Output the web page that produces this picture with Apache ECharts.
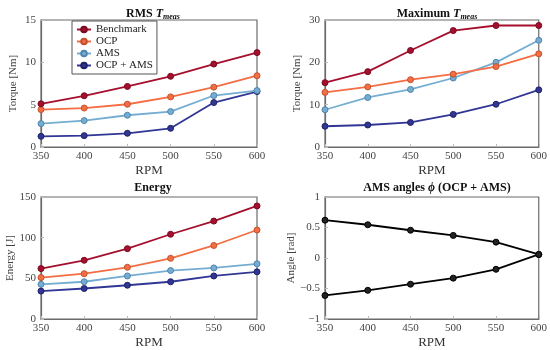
<!DOCTYPE html>
<html><head><meta charset="utf-8">
<script src="https://cdn.jsdelivr.net/npm/echarts@6/dist/echarts.min.js"></script>
<style>html,body{margin:0;padding:0;background:#fff}#c{width:550px;height:350px}</style>
</head><body><div id="c"></div>
<script>
const rpm = [350, 400, 450, 500, 550, 600];
const seriesNames = ['Benchmark', 'OCP', 'AMS', 'OCP + AMS'];
const rmsBenchmark = [5.1, 6.05, 7.15, 8.35, 9.8, 11.15];
const rmsOCP = [4.42, 4.6, 5.05, 5.92, 7.07, 8.42];
const rmsAMS = [2.76, 3.12, 3.75, 4.18, 6.08, 6.67];
const rmsOCPAMS = [1.26, 1.34, 1.62, 2.21, 5.25, 6.55];
const maxBenchmark = [15.2, 17.8, 22.8, 27.5, 28.7, 28.7];
const maxOCP = [12.9, 14.2, 15.9, 17.2, 19.0, 22.0];
const maxAMS = [8.8, 11.7, 13.6, 16.3, 20.0, 25.2];
const maxOCPAMS = [4.9, 5.2, 5.8, 7.7, 10.1, 13.5];
const enBenchmark = [62, 72.2, 86.5, 104.2, 120.4, 139];
const enOCP = [50.9, 55.7, 63.6, 74.6, 90.4, 109.4];
const enAMS = [42.6, 45.8, 52.9, 59.6, 62.8, 67.9];
const enOCPAMS = [34.3, 37.5, 41.5, 45.8, 52.9, 58.0];
const angleUpper = [0.62, 0.545, 0.455, 0.37, 0.26, 0.058];
const angleLower = [-0.614, -0.53, -0.43, -0.33, -0.185, 0.058];
const xTicks = [350, 400, 450, 500, 550, 600];

const colors = ['#a50f2d', '#f46d43', '#74add1', '#313695'];
const borders = ['#7a0a20', '#c2532f', '#4f86ad', '#1f2266'];
const font = 'Liberation Serif';

function pairs(ys) { return rpm.map((x, i) => [x, ys[i]]); }

const grids = [
  {left: 41, right: 293, top: 20, bottom: 203},
  {left: 325, right: 8, top: 20, bottom: 203},
  {left: 41, right: 293, top: 197, bottom: 27},
  {left: 325, right: 8, top: 197, bottom: 27}
];
const yCfg = [
  {min: 0, max: 15, interval: 5, name: 'Torque [Nm]'},
  {min: 0, max: 30, interval: 10, name: 'Torque [Nm]'},
  {min: 0, max: 150, interval: 50, name: 'Energy [J]'},
  {min: -1, max: 1, interval: 0.5, name: 'Angle [rad]'}
];

const axisLine = {show: true, onZero: false, lineStyle: {color: '#6b6b6b', width: 1.2}};
const xAxes = grids.map((g, i) => ({
  gridIndex: i, type: 'value', min: 350, max: 600, interval: 50,
  name: 'RPM', nameLocation: 'middle', nameGap: 17,
  nameTextStyle: {fontFamily: font, fontSize: 13, color: '#333'},
  axisLine: axisLine, axisTick: {show: true, inside: true, length: 3, lineStyle: {color: '#bbb'}},
  axisLabel: {fontFamily: font, fontSize: 11, color: '#444', margin: 4},
  splitLine: {show: false}
}));
const yAxes = yCfg.map((c, i) => ({
  gridIndex: i, type: 'value', min: c.min, max: c.max, interval: c.interval,
  name: c.name, nameLocation: 'middle', nameGap: i === 3 ? 27 : 22,
  nameTextStyle: {fontFamily: font, fontSize: 11, color: '#444'},
  axisLine: axisLine, axisTick: {show: true, inside: true, length: 3, lineStyle: {color: '#bbb'}},
  axisLabel: {fontFamily: font, fontSize: 11, color: '#444', margin: 5,
    formatter: v => (v < 0 ? '\u2212' + Math.abs(v) : '' + v)},
  splitLine: {show: false}
}));
grids.forEach(g => { g.show = true; g.borderColor = '#6b6b6b'; g.borderWidth = 1.2; g.backgroundColor = 'transparent'; });

const panels = [
  [rmsBenchmark, rmsOCP, rmsAMS, rmsOCPAMS],
  [maxBenchmark, maxOCP, maxAMS, maxOCPAMS],
  [enBenchmark, enOCP, enAMS, enOCPAMS]
];
const series = [];
panels.forEach((p, pi) => {
  p.forEach((ys, si) => {
    series.push({
      type: 'line', name: seriesNames[si], xAxisIndex: pi, yAxisIndex: pi,
      data: pairs(ys), symbol: 'circle', symbolSize: 6,
      lineStyle: {color: colors[si], width: 1.8},
      itemStyle: {color: colors[si], borderColor: borders[si], borderWidth: 1},
      z: 10 - si, animation: false
    });
  });
});
[angleUpper, angleLower].forEach(ys => {
  series.push({
    type: 'line', name: 'angle', xAxisIndex: 3, yAxisIndex: 3,
    data: pairs(ys), symbol: 'circle', symbolSize: 6,
    lineStyle: {color: '#000', width: 1.8},
    itemStyle: {color: '#222', borderColor: '#000', borderWidth: 1}, animation: false
  });
});

const tb = {fontFamily: font, fontSize: 12, fontWeight: 'bold', color: '#111'};
const titleRich = {
  b: tb,
  it: {fontFamily: font, fontSize: 12, fontStyle: 'italic', color: '#111'},
  sub: {fontFamily: font, fontSize: 8, fontStyle: 'italic', color: '#111', padding: [7, 0, 0, 0]}
};
const titles = [
  {text: '{b|RMS }{it|T}{sub|meas}', left: 148, top: 1},
  {text: '{b|Maximum }{it|T}{sub|meas}', left: 432, top: 1},
  {text: '{b|Energy}', left: 148, top: 177},
  {text: '{b|AMS angles }{it|\u03d5}{b| (OCP + AMS)}', left: 432, top: 177}
].map(t => ({text: t.text, left: t.left, top: t.top, textAlign: 'center',
  textStyle: {rich: titleRich, fontFamily: font}}));

const chart = echarts.init(document.getElementById('c'), null, {renderer: 'canvas'});
chart.setOption({
  animation: false,
  backgroundColor: '#fff',
  title: titles,
  grid: grids,
  xAxis: xAxes,
  yAxis: yAxes,
  legend: {
    data: seriesNames, orient: 'vertical', left: 72, top: 21,
    backgroundColor: '#fff', borderColor: '#555', borderWidth: 1,
    padding: [3, 4, 3, 4], itemGap: 1, itemWidth: 14, itemHeight: 7,
    textStyle: {fontFamily: font, fontSize: 11, color: '#222', lineHeight: 11},
    selectedMode: false
  },
  series: series
});
</script></body></html>
